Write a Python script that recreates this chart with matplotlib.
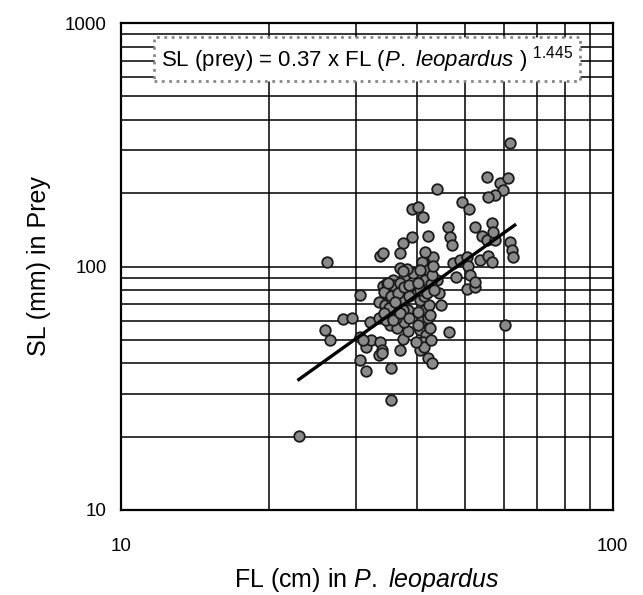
import matplotlib
matplotlib.use("Agg")
import matplotlib.pyplot as plt
import numpy as np

plt.rcParams['font.family'] = ['Liberation Sans', 'DejaVu Sans']
plt.rcParams['mathtext.fontset'] = 'custom'
plt.rcParams['mathtext.rm'] = 'Liberation Sans'
plt.rcParams['mathtext.it'] = 'Liberation Sans:italic'

# FL (cm) of P. leopardus
fl = [23.0, 26.3, 26.0, 26.6, 28.3, 29.5, 30.6, 33.5, 32.1, 33.5,
      30.6, 31.5, 32.3, 33.6, 33.9, 31.0, 33.5, 30.6, 31.5, 35.4,
      35.4, 33.6, 34.1, 34.1, 36.9, 37.4, 38.3, 40.5, 42.1, 42.9,
      46.4, 44.7, 44.3, 43.9, 50.5, 52.4, 60.3, 61.8, 55.4, 58.9,
      61.2, 59.7, 57.5, 55.7, 43.9, 49.3, 51.0, 39.0, 40.1, 41.1,
      42.1, 46.2, 46.6, 47.1, 52.4, 54.2, 55.4, 57.5, 56.7, 57.0,
      61.8, 62.3, 62.6, 53.7, 55.7, 56.7, 39.0, 37.4, 36.9, 41.9,
      43.1, 42.5, 47.3, 48.8, 50.5, 50.7, 48.1, 51.2, 52.4, 36.9,
      37.7, 39.2, 35.7, 34.7, 38.1, 37.4, 33.9,
      34.9, 36.1, 37.2, 38.3, 34.4, 35.5, 36.6, 37.7, 34.9, 36.1,
      37.2, 38.3, 35.2, 36.4, 37.7, 35.7, 36.9, 38.6, 34.6,
      40.5, 41.5, 40.9, 42.1, 40.5, 41.7, 41.1, 42.5, 40.1, 42.3, 41.3,
      40.9, 42.1, 41.5, 42.7, 40.5, 42.9,
      34.2, 35.4, 36.6, 37.6, 35.0, 36.2, 37.4, 35.7, 36.9, 34.2,
      38.6, 36.1, 38.6, 34.9, 40.1, 41.3, 42.7, 39.9, 42.5, 41.9,
      43.1, 40.5, 41.5, 40.1, 43.3]
# SL (mm) of prey
sl = [20.1, 104, 54.8, 49.9, 60.9, 61.4, 76.4, 71.5, 59.2, 61.4,
      51.3, 46.7, 49.9, 49.0, 45.4, 49.9, 43.3, 41.3, 37.2, 38.3,
      28.3, 111, 114, 83.2, 45.4, 50.4, 54.3, 45.4, 42.1, 40.2,
      53.8, 69.5, 77.8, 88.0, 80.9, 82.4, 57.5, 321, 233, 220,
      231, 206, 197, 193, 208, 184, 172, 172, 176, 160,
      133, 145, 132, 123, 145, 133, 128, 128, 151, 139,
      126, 117, 109, 106, 111, 104, 132, 125, 114, 106,
      109, 99.5, 103, 106, 109, 101, 90.5, 92.3, 86.4, 98.6,
      90.5, 94.0, 88.0, 85.6, 97.7, 95.8, 44.1,
      76.4, 80.1, 78.6, 81.6, 69.5, 72.9, 69.5, 72.9, 63.2, 65.0,
      61.4, 66.3, 57.5, 56.0, 59.2, 84.0, 85.6, 75.7, 60.3,
      72.9, 66.3, 60.3, 61.4, 54.8, 52.3, 49.0, 55.9, 65.2, 69.5, 75.7,
      104, 96.7, 88.0, 84.8, 80.1, 92.3,
      78.6, 75.6, 77.8, 82.4, 67.5, 61.4, 66.3, 60.3, 64.4, 64.4,
      61.4, 71.5, 84.0, 85.6, 57.5, 46.7, 49.9, 49.0, 63.2, 77.8,
      101, 96.7, 115, 85.6, 80.1]

coef_a = 0.37
coef_b = 1.445
fit_range = [23.0, 63.2]

fig = plt.figure(figsize=(6.43, 5.95), dpi=100)
ax = fig.add_axes([0.188, 0.143, 0.765, 0.818])
ax.set_xscale('log')
ax.set_yscale('log')
ax.set_xlim(10, 100)
ax.set_ylim(10, 1000)

ax.grid(True, which='both', color='black', linewidth=1.1)
ax.set_axisbelow(True)

ax.scatter(fl, sl, s=58, facecolor='#8a8a8a', edgecolor='#1a1a1a',
           linewidth=1.3, zorder=3)

xf = np.linspace(fit_range[0], fit_range[1], 50)
ax.plot(xf, coef_a * xf ** coef_b, color='black', linewidth=2.4, zorder=4)

ax.set_xticks([10, 100])
ax.set_xticklabels(['10', '100'])
ax.set_yticks([10, 100, 1000])
ax.set_yticklabels(['10', '100', '1000'])
ax.minorticks_on()
ax.tick_params(which='both', length=0)
ax.tick_params(axis='x', pad=20, labelsize=13.5)
ax.tick_params(axis='y', pad=10, labelsize=13.5)
ax.xaxis.set_minor_formatter(matplotlib.ticker.NullFormatter())
ax.yaxis.set_minor_formatter(matplotlib.ticker.NullFormatter())

for s in ax.spines.values():
    s.set_linewidth(1.6)
    s.set_color('black')

ax.set_xlabel(r'FL (cm) in $\mathit{P.}$ $\mathit{leopardus}$', fontsize=18, labelpad=8)
ax.set_ylabel('SL (mm) in Prey', fontsize=18, labelpad=10)

ax.text(0.5, 0.926,
        r'SL (prey) = 0.37 x FL ($\mathit{P.}$ $\mathit{leopardus}$ ) $^{1.445}$',
        transform=ax.transAxes, ha='center', va='center', fontsize=16,
        bbox=dict(boxstyle='square,pad=0.3', facecolor='white',
                  edgecolor='#888888', linestyle=':', linewidth=2.0),
        zorder=5)

fig.savefig('out.png', dpi=100)
